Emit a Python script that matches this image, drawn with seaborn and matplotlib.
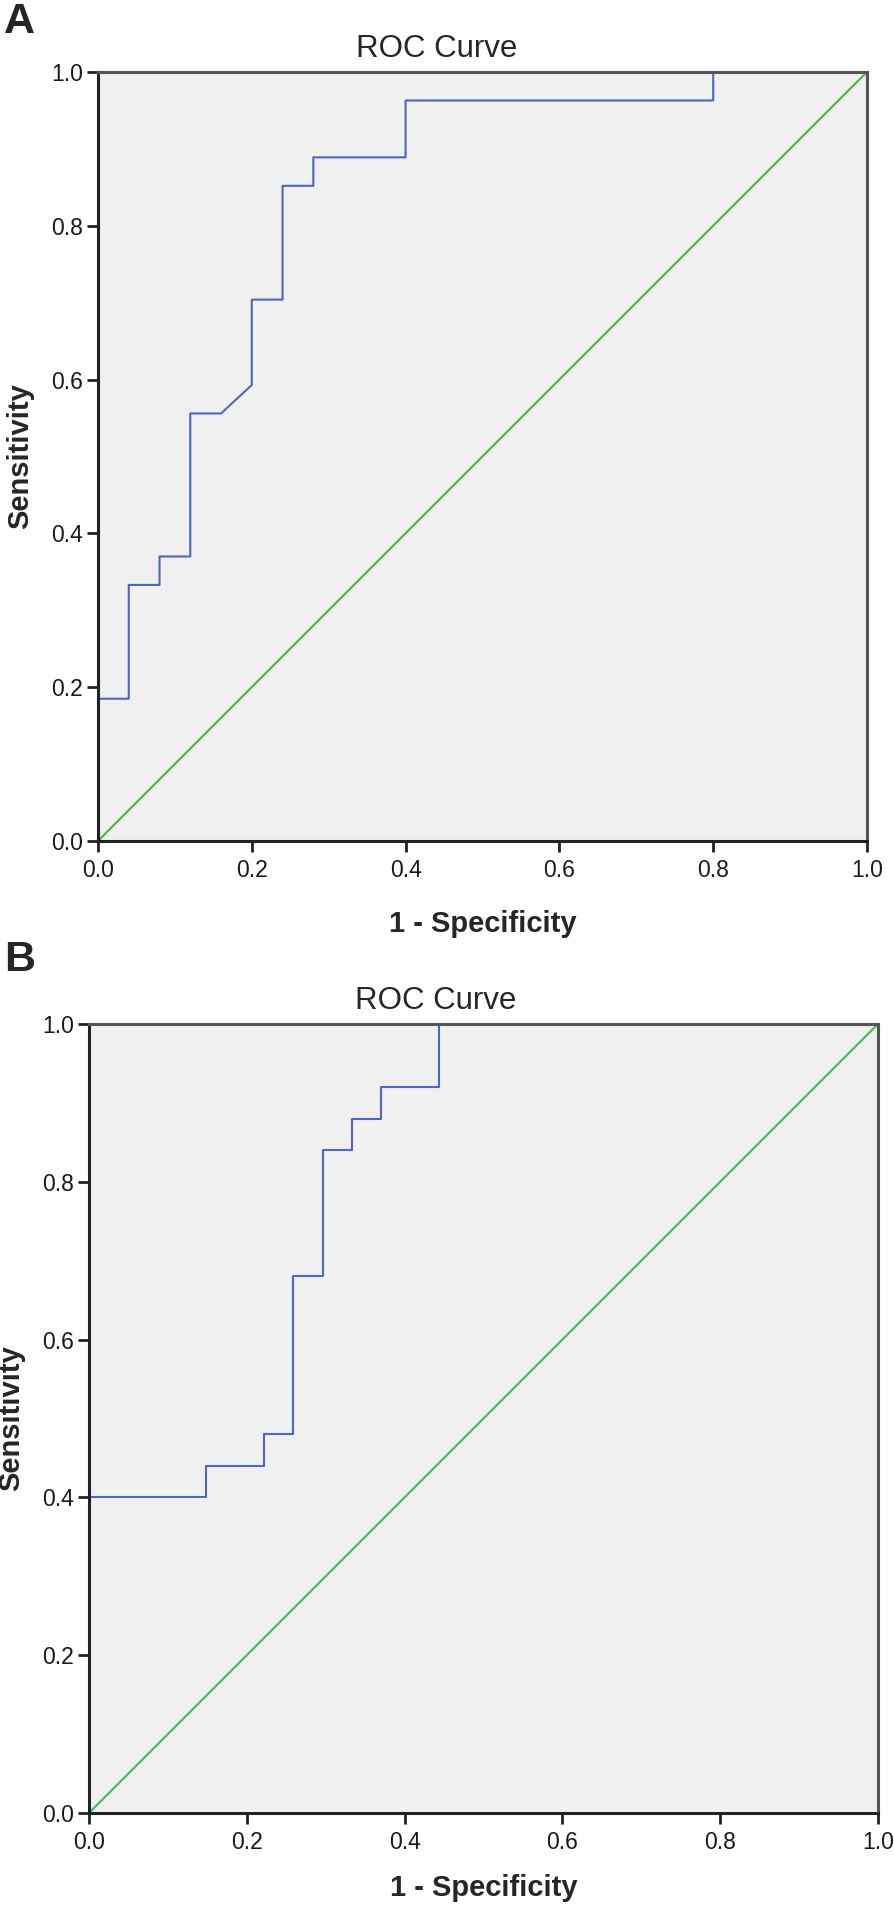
import matplotlib
matplotlib.use("Agg")
import matplotlib.pyplot as plt
import seaborn as sns

# ROC curve vertices, panel A (27 positives, 25 negatives)
fpr_a = [0.0, 0.0, 0.04, 0.04, 0.08, 0.08, 0.12, 0.12, 0.16, 0.20, 0.20, 0.24,
         0.24, 0.28, 0.28, 0.40, 0.40, 0.80, 0.80, 1.0]
tpr_a = [0.0, 0.185, 0.185, 0.333, 0.333, 0.370, 0.370, 0.556, 0.556, 0.593,
         0.704, 0.704, 0.852, 0.852, 0.889, 0.889, 0.963, 0.963, 1.0, 1.0]

# ROC curve vertices, panel B
fpr_b = [0.0, 0.0, 0.148, 0.148, 0.222, 0.222, 0.259, 0.259, 0.296, 0.296,
         0.333, 0.333, 0.370, 0.370, 0.444, 0.444, 1.0]
tpr_b = [0.0, 0.40, 0.40, 0.44, 0.44, 0.48, 0.48, 0.68, 0.68, 0.84, 0.84,
         0.88, 0.88, 0.92, 0.92, 1.0, 1.0]

ref_line = [0.0, 1.0]
ticks = [0.0, 0.2, 0.4, 0.6, 0.8, 1.0]
tick_labels = ["0.0", "0.2", "0.4", "0.6", "0.8", "1.0"]

sns.set_style("white")
plt.rcParams['font.family'] = ['Liberation Sans', 'DejaVu Sans']

W, H = 894, 1905
fig = plt.figure(figsize=(W / 100, H / 100), dpi=100)


def draw_panel(rect_px, fpr, tpr, letter, letter_y, xpad):
    l, t, r, b = rect_px
    ax = fig.add_axes([l / W, 1 - b / H, (r - l) / W, (b - t) / H])
    ax.set_facecolor("#f0f0f0")
    sns.lineplot(x=ref_line, y=ref_line, ax=ax, color="#4cbb5a", lw=1.6)
    sns.lineplot(x=fpr, y=tpr, ax=ax, sort=False, estimator=None,
                 color="#5064c0", lw=1.5)
    ax.set_xlim(0, 1)
    ax.set_ylim(0, 1)
    ax.set_xticks(ticks)
    ax.set_xticklabels(tick_labels)
    ax.set_yticks(ticks)
    ax.set_yticklabels(tick_labels)
    ax.tick_params(axis="both", direction="out", length=8, width=2,
                   color="#222222", labelsize=16.5, pad=3,
                   labelcolor="#1a1a1a", bottom=True, left=True)
    ax.tick_params(axis="x", pad=5)
    for side in ["left", "bottom"]:
        ax.spines[side].set_color("#222222")
        ax.spines[side].set_linewidth(2.2)
    for side in ["top", "right"]:
        ax.spines[side].set_color("#555555")
        ax.spines[side].set_linewidth(2.2)
    ax.set_title("ROC Curve", fontsize=22.5, pad=11, x=0.44)
    ax.set_xlabel("1 - Specificity", fontsize=21, fontweight="bold", labelpad=xpad)
    ax.set_ylabel("Sensitivity", fontsize=21, fontweight="bold", labelpad=12)
    fig.text(4 / W, 1 - letter_y / H, letter, fontsize=31, fontweight="bold",
             va="top", ha="left")
    return ax


draw_panel((98, 72, 867, 841), fpr_a, tpr_a, "A", 2, 20)
draw_panel((89, 1024, 878, 1813), fpr_b, tpr_b, "B", 940, 14)

fig.savefig("out.png", dpi=100)
plt.close(fig)
